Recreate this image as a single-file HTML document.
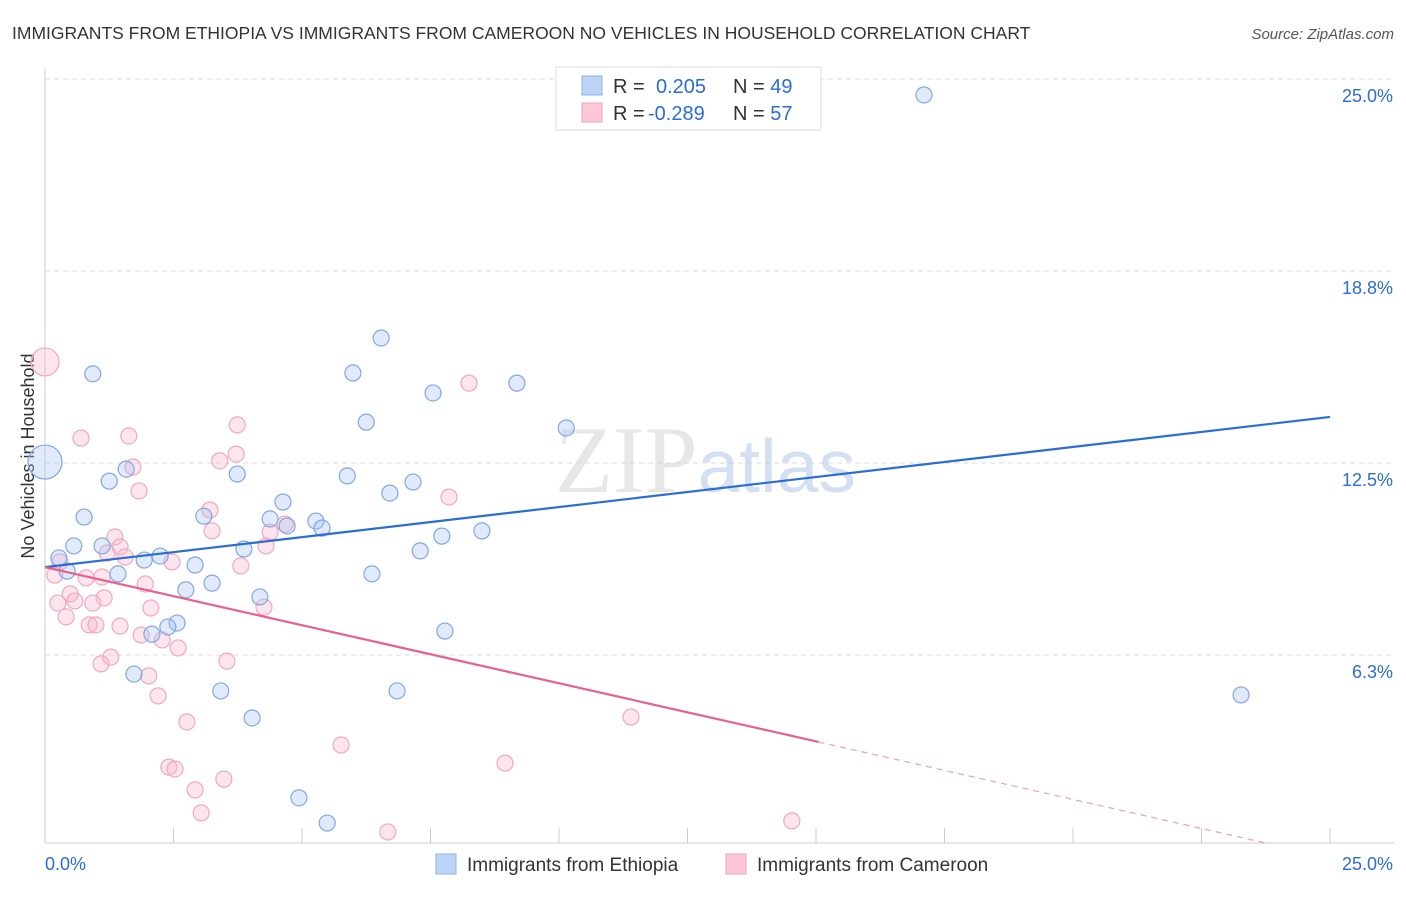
<!DOCTYPE html>
<html><head><meta charset="utf-8"><style>
body{margin:0;background:#fff;font-family:"Liberation Sans",sans-serif;}
</style></head><body>
<svg id="chart" width="1406" height="892" xmlns="http://www.w3.org/2000/svg" style="font-family:'Liberation Sans',sans-serif">
<text x="12" y="39" font-size="17.5" fill="#333">IMMIGRANTS FROM ETHIOPIA VS IMMIGRANTS FROM CAMEROON NO VEHICLES IN HOUSEHOLD CORRELATION CHART</text>
<text x="1394" y="39" font-size="15" fill="#555" font-style="italic" text-anchor="end">Source: ZipAtlas.com</text>
<g id="grid"></g>
<text x="555" y="492" font-size="95" fill="#d8d8d8" font-family="Liberation Serif,serif" opacity="0.6">ZIP<tspan fill="#b8cdea" font-family="Liberation Sans,sans-serif" font-size="75">atlas</tspan></text>
<text transform="translate(34,456) rotate(-90)" font-size="18" fill="#333" text-anchor="middle">No Vehicles in Household</text>
<g id="points"></g>
<g id="lines"></g>
<g>
<rect x="556" y="67" width="265" height="63" fill="#fff" stroke="#ddd"/>
<rect x="582" y="76" width="20" height="19" fill="#bcd4f6" stroke="#8cb0e6"/>
<rect x="582" y="103" width="20" height="19" fill="#fcc8d8" stroke="#f0a0bc"/>
<text x="613" y="93" font-size="20" fill="#333">R = <tspan fill="#2a6dd4" x="656">0.205</tspan><tspan x="733" fill="#333">N = </tspan><tspan fill="#2a6dd4">49</tspan></text>
<text x="613" y="120" font-size="20" fill="#333">R = <tspan fill="#2a6dd4" x="648">-0.289</tspan><tspan x="733" fill="#333">N = </tspan><tspan fill="#2a6dd4">57</tspan></text>
</g>
<g>
<rect x="436" y="854" width="20" height="20" fill="#bcd4f6" stroke="#8cb0e6"/>
<text x="467" y="871" font-size="19" fill="#333">Immigrants from Ethiopia</text>
<rect x="726" y="854" width="20" height="20" fill="#fcc8d8" stroke="#f0a0bc"/>
<text x="757" y="871" font-size="19" fill="#333">Immigrants from Cameroon</text>
</g>
</svg>
<script>
const yTicks=[6.25,12.5,18.75,25];
const yTickLabels=["6.3%","12.5%","18.8%","25.0%"];
const xTickVals=[0,2.5,5,7.5,10,12.5,15,17.5,20,22.5,25];
const ethX=[17.10,6.54,0.93,5.99,9.18,7.55,6.25,10.14,0,1.58,3.74,5.88,1.25,7.16,6.71,4.63,0.76,3.09,4.38,5.27,4.71,5.39,8.50,7.72,1.11,0.56,7.30,3.87,0.27,2.24,1.93,2.92,0.43,1.42,6.36,3.25,2.74,4.18,2.57,2.39,2.08,7.78,1.73,3.42,6.85,23.27,4.03,4.94,5.49];
const ethY=[24.48,16.57,15.40,15.43,15.10,14.78,13.83,13.64,12.53,12.30,12.14,12.08,11.91,11.88,11.52,11.23,10.74,10.77,10.68,10.61,10.45,10.38,10.29,10.12,9.80,9.80,9.64,9.70,9.41,9.47,9.34,9.18,8.98,8.89,8.89,8.59,8.37,8.14,7.29,7.16,6.93,7.03,5.63,5.08,5.08,4.95,4.20,1.60,0.78];
const camX=[0,8.25,0.70,1.63,3.74,3.72,3.40,1.71,1.83,7.86,3.21,4.67,3.25,4.38,4.30,1.36,1.46,1.21,1.56,0.29,2.47,0.19,3.81,1.11,0.80,1.95,0.49,1.15,0.58,0.93,0.25,2.06,4.26,0.41,0.86,0.99,1.46,1.87,2.28,2.59,1.28,1.09,3.54,2.02,2.20,2.76,11.40,5.76,2.41,2.53,8.95,3.48,2.92,3.04,14.53,6.67];
const camY=[15.79,15.10,13.31,13.38,13.74,12.79,12.57,12.37,11.59,11.39,10.97,10.51,10.29,10.25,9.80,10.09,9.77,9.57,9.44,9.28,9.28,8.85,9.15,8.79,8.76,8.56,8.24,8.11,8.01,7.94,7.94,7.78,7.81,7.49,7.23,7.23,7.19,6.90,6.74,6.48,6.18,5.96,6.05,5.57,4.92,4.07,4.23,3.32,2.60,2.54,2.73,2.21,1.86,1.11,0.85,0.49];
const ethTrend=[9.11,14.0];
const camTrend=[9.11,3.42];
const camSolidEnd=15.05;
const camDashEnd=23.8;
const sx=v=>45+v*51.4, sy=v=>847-v*30.72;
const NS="http://www.w3.org/2000/svg";
function mk(tag,attrs,parent){const e=document.createElementNS(NS,tag);for(const k in attrs)e.setAttribute(k,attrs[k]);parent.appendChild(e);return e;}
const grid=document.getElementById('grid');
yTicks.forEach((t,i)=>{
 const l=mk('line',{x1:45,x2:1394,y1:sy(t),y2:sy(t),stroke:'#ddd','stroke-dasharray':'5,4'},grid);
 
 const tx=mk('text',{x:1393,y:sy(t)+23,'font-size':18,fill:'#2a6dd4','text-anchor':'end'},grid);
 tx.textContent=yTickLabels[i];
 
});
const ax=mk('line',{x1:45,x2:45,y1:68,y2:843,stroke:'#ccc'},grid);

const bx=mk('line',{x1:45,x2:1394,y1:843,y2:843,stroke:'#ccc'},grid);

xTickVals.forEach(t=>{const l=mk('line',{x1:sx(t),x2:sx(t),y1:828,y2:843,stroke:'#ccc'},grid);
 });
const x0=mk('text',{x:45,y:870,'font-size':18,fill:'#2a6dd4'},grid);x0.textContent='0.0%';

const x1=mk('text',{x:1393,y:870,'font-size':18,fill:'#2a6dd4','text-anchor':'end'},grid);x1.textContent='25.0%';

const pts=document.getElementById('points');
camX.forEach((x,i)=>{const c=mk('circle',{cx:sx(x),cy:sy(camY[i]),r:i==0?14:8,fill:'rgba(248,180,204,0.35)',stroke:'#f0a8c2','stroke-width':1.2},pts);
 });
ethX.forEach((x,i)=>{const c=mk('circle',{cx:sx(x),cy:sy(ethY[i]),r:i==8?17:8,fill:'rgba(165,195,240,0.35)',stroke:'#80a8e0','stroke-width':1.2},pts);
 });
const ln=document.getElementById('lines');
const b=mk('line',{x1:sx(0),y1:sy(ethTrend[0]),x2:sx(25),y2:sy(ethTrend[1]),stroke:'#2a6dd4','stroke-width':2.2},ln);

const slope=(camTrend[1]-camTrend[0])/camSolidEnd;
const p=mk('line',{x1:sx(0),y1:sy(camTrend[0]),x2:sx(camSolidEnd),y2:sy(camTrend[1]),stroke:'#e8608f','stroke-width':2.2},ln);

const pd=mk('line',{x1:sx(camSolidEnd),y1:sy(camTrend[1]),x2:sx(camDashEnd),y2:sy(camTrend[0]+slope*camDashEnd),stroke:'#e8a0b8','stroke-width':1.2,'stroke-dasharray':'6,5'},ln);

</script>
</body></html>
